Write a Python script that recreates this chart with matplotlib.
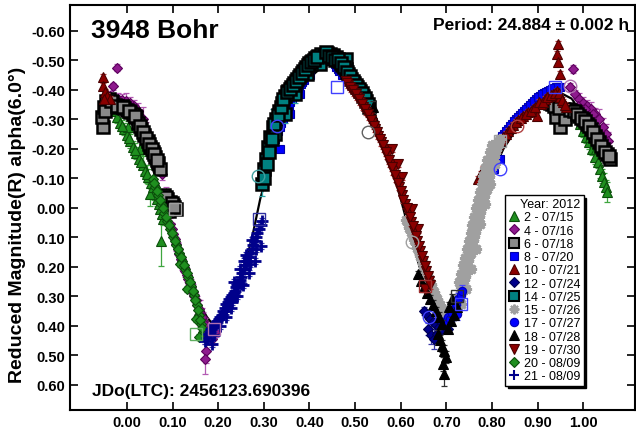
import matplotlib
matplotlib.use("Agg")
import matplotlib.pyplot as plt
from matplotlib.lines import Line2D
import numpy as np

plt.rcParams['font.family'] = ['Liberation Sans', 'DejaVu Sans']

# ---- lightcurve sessions: [phase, reduced magnitude, error] ----
S02 = [
    [-0.032, -0.329, 0.015], [-0.023, -0.308, 0.020], [-0.015, -0.288, 0.015], [-0.006, -0.268, 0.020],
    [0.001, -0.247, 0.020], [0.007, -0.227, 0.025], [0.014, -0.207, 0.020], [0.020, -0.186, 0.020],
    [0.027, -0.166, 0.025], [0.034, -0.145, 0.030], [0.040, -0.125, 0.020], [0.047, -0.105, 0.025],
    [0.053, -0.084, 0.020], [0.060, -0.057, 0.030], [0.066, -0.030, 0.025], [0.073, 0.004, 0.030],
    [0.080, 0.038, 0.020], [0.075, 0.112, 0.085], [0.051, -0.047, 0.040], [0.029, -0.200, 0.030],
    [0.003, -0.274, 0.020], [-0.010, -0.278, 0.020], [0.004, -0.237, 0.020], [0.017, -0.196, 0.025],
    [0.030, -0.155, 0.025], [0.044, -0.115, 0.030], [0.057, -0.070, 0.025], [0.070, -0.012, 0.030],
    [0.077, 0.021, 0.025],
    [0.993, -0.285, 0.015], [1.000, -0.261, 0.020], [1.007, -0.240, 0.020], [1.013, -0.223, 0.025],
    [1.020, -0.200, 0.020], [1.026, -0.173, 0.025], [1.033, -0.156, 0.020], [1.037, -0.132, 0.030],
    [1.042, -0.108, 0.025], [1.046, -0.088, 0.030], [1.050, -0.071, 0.025], [1.053, -0.054, 0.035],
    [1.028, -0.200, 0.020], [1.015, -0.240, 0.020],
]
S04 = [
    [-0.021, -0.475, 0.012], [-0.030, -0.413, 0.012], [-0.037, -0.380, 0.015], [-0.028, -0.373, 0.015],
    [-0.019, -0.369, 0.020], [-0.010, -0.366, 0.020], [-0.002, -0.363, 0.025], [0.007, -0.356, 0.020],
    [0.016, -0.346, 0.020], [0.025, -0.329, 0.025], [0.034, -0.301, 0.040], [0.042, -0.261, 0.030],
    [0.051, -0.227, 0.020], [0.060, -0.193, 0.025], [0.069, -0.159, 0.030], [0.077, -0.115, 0.020],
    [0.086, -0.047, 0.025], [0.095, 0.055, 0.020], [0.101, 0.089, 0.020], [0.108, 0.123, 0.025],
    [0.115, 0.156, 0.020], [0.121, 0.187, 0.025], [0.128, 0.214, 0.020], [0.134, 0.241, 0.020],
    [0.141, 0.268, 0.025], [0.147, 0.299, 0.020], [0.154, 0.329, 0.030], [0.161, 0.357, 0.045],
    [0.167, 0.384, 0.030], [0.174, 0.411, 0.025], [0.180, 0.431, 0.020], [0.187, 0.445, 0.020],
    [0.174, 0.485, 0.040], [0.172, 0.513, 0.050], [0.194, 0.418, 0.020],
    [0.098, 0.072, 0.020], [0.105, 0.106, 0.020], [0.111, 0.140, 0.025], [0.118, 0.172, 0.020],
    [0.125, 0.200, 0.020], [0.131, 0.228, 0.025], [0.138, 0.255, 0.020], [0.144, 0.284, 0.025],
    [0.151, 0.314, 0.020], [0.157, 0.343, 0.030], [0.164, 0.370, 0.030], [0.170, 0.398, 0.025],
    [0.177, 0.421, 0.020], [0.183, 0.438, 0.020],
    [0.978, -0.471, 0.012], [0.972, -0.410, 0.015], [0.982, -0.386, 0.015], [0.991, -0.369, 0.020],
    [1.000, -0.356, 0.020], [1.009, -0.346, 0.020], [1.017, -0.335, 0.025], [1.026, -0.318, 0.020],
    [1.035, -0.301, 0.035], [1.044, -0.274, 0.030], [1.050, -0.251, 0.035], [1.055, -0.227, 0.030],
    [1.044, -0.234, 0.030], [1.022, -0.318, 0.020], [1.004, -0.335, 0.020], [0.989, -0.346, 0.020],
]
S06 = [
    [-0.052, -0.274, 0.010], [-0.054, -0.308, 0.010], [-0.050, -0.342, 0.010], [-0.045, -0.363, 0.010],
    [-0.039, -0.369, 0.010], [-0.032, -0.359, 0.010], [-0.026, -0.349, 0.010], [-0.019, -0.342, 0.010],
    [-0.012, -0.346, 0.010], [-0.006, -0.339, 0.010], [0.001, -0.332, 0.010], [0.007, -0.325, 0.010],
    [0.014, -0.318, 0.010], [0.020, -0.308, 0.010], [0.025, -0.288, 0.010], [0.031, -0.268, 0.010],
    [0.038, -0.247, 0.010], [0.045, -0.227, 0.010], [0.051, -0.207, 0.010], [0.056, -0.190, 0.010],
    [0.062, -0.173, 0.010], [0.069, -0.152, 0.010], [0.073, -0.132, 0.010], [0.082, -0.044, 0.010],
    [0.088, -0.030, 0.010], [0.095, -0.020, 0.010], [0.101, -0.010, 0.010], [0.108, 0.004, 0.010],
    [0.091, 0.011, 0.010], [-0.048, -0.330, 0.010], [-0.036, -0.362, 0.010], [-0.022, -0.345, 0.010],
    [-0.009, -0.342, 0.010], [0.004, -0.328, 0.010], [0.017, -0.313, 0.010], [0.028, -0.278, 0.010],
    [0.035, -0.257, 0.010], [0.041, -0.237, 0.010], [0.048, -0.217, 0.010], [0.054, -0.198, 0.010],
    [0.059, -0.182, 0.010], [0.066, -0.162, 0.010], [0.085, -0.037, 0.010], [0.098, -0.015, 0.010],
    [0.104, -0.003, 0.010],
    [0.923, -0.359, 0.010], [0.932, -0.352, 0.010], [0.941, -0.342, 0.010], [0.950, -0.274, 0.010],
    [0.956, -0.335, 0.010], [0.965, -0.335, 0.010], [0.974, -0.329, 0.010], [0.983, -0.325, 0.010],
    [0.991, -0.312, 0.010], [1.000, -0.301, 0.010], [1.009, -0.285, 0.010], [1.017, -0.268, 0.010],
    [1.026, -0.244, 0.010], [1.035, -0.223, 0.010], [1.044, -0.200, 0.010], [1.053, -0.183, 0.010],
    [1.059, -0.166, 0.010], [0.941, -0.308, 0.010], [0.961, -0.301, 0.010], [0.927, -0.355, 0.010],
    [0.936, -0.347, 0.010], [0.946, -0.338, 0.010], [0.970, -0.332, 0.010], [0.979, -0.327, 0.010],
    [0.987, -0.318, 0.010], [0.996, -0.306, 0.010], [1.004, -0.293, 0.010], [1.013, -0.276, 0.010],
    [1.022, -0.256, 0.010], [1.031, -0.233, 0.010], [1.040, -0.211, 0.010], [1.048, -0.191, 0.010],
    [1.056, -0.175, 0.010],
]
S08 = [
    [0.325, -0.234, 0.010], [0.332, -0.261, 0.010], [0.338, -0.288, 0.010], [0.345, -0.315, 0.010],
    [0.351, -0.335, 0.010], [0.358, -0.359, 0.010], [0.365, -0.380, 0.010], [0.371, -0.396, 0.010],
    [0.378, -0.413, 0.010], [0.384, -0.427, 0.010], [0.419, -0.485, 0.010], [0.426, -0.498, 0.010],
    [0.432, -0.505, 0.010], [0.439, -0.512, 0.010], [0.446, -0.505, 0.010], [0.452, -0.495, 0.010],
    [0.459, -0.478, 0.010], [0.465, -0.464, 0.010], [0.472, -0.451, 0.010], [0.336, -0.200, 0.010],
    [0.358, -0.318, 0.010], [0.380, -0.386, 0.010], [0.402, -0.451, 0.010], [0.329, -0.248, 0.010],
    [0.335, -0.275, 0.010], [0.341, -0.302, 0.010], [0.348, -0.325, 0.010], [0.355, -0.347, 0.010],
    [0.361, -0.370, 0.010], [0.368, -0.388, 0.010], [0.375, -0.405, 0.010], [0.381, -0.420, 0.010],
    [0.387, -0.435, 0.010], [0.422, -0.492, 0.010], [0.429, -0.502, 0.010], [0.436, -0.508, 0.010],
    [0.442, -0.509, 0.010], [0.449, -0.500, 0.010], [0.456, -0.487, 0.010], [0.462, -0.471, 0.010],
    [0.792, -0.149, 0.010], [0.800, -0.173, 0.010], [0.809, -0.200, 0.010], [0.818, -0.234, 0.010],
    [0.827, -0.251, 0.010], [0.836, -0.268, 0.010], [0.844, -0.285, 0.010], [0.853, -0.301, 0.010],
    [0.862, -0.315, 0.010], [0.871, -0.329, 0.010], [0.880, -0.342, 0.010], [0.888, -0.356, 0.010],
    [0.897, -0.369, 0.010], [0.906, -0.380, 0.010], [0.914, -0.390, 0.010], [0.923, -0.396, 0.010],
    [0.932, -0.403, 0.010], [0.941, -0.410, 0.010], [0.950, -0.410, 0.010], [0.805, -0.132, 0.010],
    [0.818, -0.166, 0.010], [0.796, -0.161, 0.010], [0.805, -0.186, 0.010], [0.813, -0.217, 0.010],
    [0.822, -0.243, 0.010], [0.831, -0.260, 0.010], [0.840, -0.277, 0.010], [0.849, -0.293, 0.010],
    [0.858, -0.308, 0.010], [0.866, -0.322, 0.010], [0.875, -0.336, 0.010], [0.884, -0.349, 0.010],
    [0.893, -0.362, 0.010], [0.901, -0.375, 0.010], [0.910, -0.385, 0.010], [0.919, -0.393, 0.010],
    [0.927, -0.400, 0.010], [0.936, -0.407, 0.010], [0.945, -0.410, 0.010],
]
S10 = [
    [-0.052, -0.444, 0.010], [-0.052, -0.413, 0.010], [-0.048, -0.393, 0.010], [-0.043, -0.380, 0.010],
    [-0.037, -0.369, 0.010], [-0.050, -0.369, 0.010],
    [0.770, -0.098, 0.010], [0.781, -0.132, 0.010], [0.792, -0.166, 0.010], [0.803, -0.193, 0.010],
    [0.814, -0.217, 0.010], [0.825, -0.240, 0.010], [0.836, -0.261, 0.010], [0.846, -0.281, 0.010],
    [0.858, -0.298, 0.010], [0.869, -0.312, 0.010], [0.879, -0.325, 0.010], [0.890, -0.335, 0.010],
    [0.899, -0.312, 0.010], [0.908, -0.352, 0.010], [0.917, -0.369, 0.010], [0.925, -0.380, 0.010],
    [0.934, -0.386, 0.010], [0.943, -0.396, 0.010], [0.950, -0.376, 0.010], [0.956, -0.359, 0.010],
    [0.963, -0.342, 0.010], [0.945, -0.556, 0.010], [0.943, -0.522, 0.010], [0.945, -0.495, 0.010],
    [0.950, -0.454, 0.010], [0.775, -0.115, 0.010], [0.786, -0.149, 0.010], [0.797, -0.180, 0.010],
    [0.808, -0.205, 0.010], [0.819, -0.229, 0.010], [0.830, -0.250, 0.010], [0.841, -0.271, 0.010],
    [0.852, -0.290, 0.010], [0.863, -0.305, 0.010], [0.874, -0.318, 0.010], [0.885, -0.330, 0.010],
    [0.895, -0.342, 0.010], [0.904, -0.358, 0.010], [0.912, -0.360, 0.010], [0.921, -0.375, 0.010],
    [0.930, -0.383, 0.010], [0.938, -0.391, 0.010], [0.947, -0.388, 0.010], [0.953, -0.367, 0.010],
    [0.960, -0.350, 0.010],
]
S12 = [
    [0.652, 0.350, 0.012], [0.658, 0.363, 0.012], [0.665, 0.377, 0.015], [0.671, 0.387, 0.012],
    [0.678, 0.397, 0.015], [0.684, 0.404, 0.012], [0.691, 0.411, 0.015], [0.698, 0.404, 0.012],
    [0.704, 0.411, 0.015], [0.660, 0.411, 0.020], [0.667, 0.431, 0.030], [0.673, 0.445, 0.035],
    [0.680, 0.428, 0.020], [0.687, 0.384, 0.015], [0.695, 0.370, 0.015],
]
S14 = [
    [0.296, -0.081, 0.040], [0.301, -0.132, 0.050], [0.305, -0.166, 0.030], [0.310, -0.207, 0.040],
    [0.314, -0.240, 0.030], [0.321, -0.274, 0.060], [0.327, -0.301, 0.030], [0.334, -0.329, 0.050],
    [0.340, -0.356, 0.040], [0.347, -0.380, 0.030], [0.353, -0.396, 0.030], [0.360, -0.410, 0.030],
    [0.367, -0.424, 0.020], [0.373, -0.437, 0.020], [0.380, -0.451, 0.020], [0.386, -0.464, 0.020],
    [0.393, -0.478, 0.015], [0.400, -0.491, 0.015], [0.406, -0.498, 0.015], [0.413, -0.508, 0.015],
    [0.419, -0.515, 0.015], [0.426, -0.522, 0.010], [0.432, -0.519, 0.010], [0.439, -0.525, 0.010],
    [0.446, -0.522, 0.010], [0.452, -0.519, 0.010], [0.459, -0.512, 0.015], [0.465, -0.498, 0.015],
    [0.472, -0.485, 0.015], [0.479, -0.471, 0.015], [0.485, -0.454, 0.015], [0.492, -0.437, 0.015],
    [0.498, -0.424, 0.015], [0.505, -0.410, 0.015], [0.511, -0.396, 0.020], [0.518, -0.380, 0.020],
    [0.524, -0.363, 0.020], [0.531, -0.342, 0.020], [0.395, -0.454, 0.020], [0.369, -0.386, 0.030],
    [0.347, -0.318, 0.030], [0.325, -0.251, 0.030], [0.424, -0.488, 0.010], [0.479, -0.505, 0.015],
    [0.300, -0.100, 0.040], [0.306, -0.150, 0.030], [0.312, -0.190, 0.040], [0.318, -0.232, 0.050],
    [0.323, -0.285, 0.030], [0.330, -0.315, 0.040], [0.337, -0.342, 0.040], [0.343, -0.368, 0.030],
    [0.350, -0.392, 0.030], [0.357, -0.402, 0.030], [0.363, -0.418, 0.020], [0.370, -0.430, 0.020],
    [0.376, -0.444, 0.020], [0.383, -0.458, 0.020], [0.390, -0.470, 0.015], [0.397, -0.484, 0.015],
    [0.403, -0.495, 0.015], [0.410, -0.503, 0.015], [0.416, -0.511, 0.015], [0.436, -0.530, 0.010],
    [0.443, -0.515, 0.010], [0.449, -0.510, 0.010], [0.456, -0.502, 0.015], [0.462, -0.505, 0.015],
    [0.469, -0.490, 0.015], [0.476, -0.478, 0.015], [0.482, -0.462, 0.015], [0.489, -0.447, 0.015],
    [0.495, -0.430, 0.015], [0.502, -0.418, 0.015], [0.508, -0.402, 0.020], [0.515, -0.388, 0.020],
    [0.521, -0.371, 0.020], [0.528, -0.352, 0.020],
]
S15 = [
    [0.616, 0.055, 0.010], [0.623, 0.082, 0.010], [0.630, 0.109, 0.010], [0.636, 0.136, 0.010],
    [0.643, 0.163, 0.010], [0.649, 0.190, 0.010], [0.656, 0.218, 0.010], [0.662, 0.245, 0.010],
    [0.669, 0.272, 0.010], [0.676, 0.296, 0.010], [0.682, 0.319, 0.010], [0.689, 0.340, 0.010],
    [0.695, 0.353, 0.010], [0.702, 0.363, 0.010], [0.709, 0.370, 0.010], [0.715, 0.360, 0.010],
    [0.722, 0.343, 0.010], [0.726, 0.309, 0.010], [0.731, 0.282, 0.010], [0.735, 0.258, 0.010],
    [0.740, 0.234, 0.010], [0.744, 0.207, 0.010], [0.748, 0.180, 0.010], [0.753, 0.153, 0.010],
    [0.757, 0.126, 0.010], [0.761, 0.099, 0.010], [0.766, 0.072, 0.010], [0.770, 0.045, 0.010],
    [0.774, 0.017, 0.010], [0.779, -0.010, 0.010], [0.783, -0.037, 0.010], [0.788, -0.064, 0.010],
    [0.792, -0.091, 0.010], [0.796, -0.118, 0.010], [0.801, -0.145, 0.010], [0.805, -0.173, 0.010],
    [0.809, -0.196, 0.010], [0.814, -0.217, 0.010], [0.818, -0.234, 0.010], [0.742, 0.275, 0.010],
    [0.753, 0.207, 0.010], [0.764, 0.139, 0.010], [0.774, 0.055, 0.010], [0.785, -0.013, 0.010],
    [0.796, -0.081, 0.010], [0.807, -0.149, 0.010], [0.731, 0.326, 0.010], [0.720, 0.309, 0.010],
    [0.612, 0.040, 0.010], [0.619, 0.068, 0.010], [0.626, 0.096, 0.010], [0.633, 0.122, 0.010],
    [0.640, 0.150, 0.010], [0.646, 0.176, 0.010], [0.652, 0.204, 0.010], [0.659, 0.231, 0.010],
    [0.666, 0.258, 0.010], [0.672, 0.285, 0.010], [0.679, 0.308, 0.010], [0.686, 0.330, 0.010],
    [0.692, 0.347, 0.010], [0.699, 0.358, 0.010], [0.705, 0.366, 0.010], [0.712, 0.372, 0.010],
    [0.718, 0.352, 0.010], [0.729, 0.295, 0.010], [0.733, 0.270, 0.010], [0.738, 0.246, 0.010],
    [0.742, 0.220, 0.010], [0.746, 0.194, 0.010], [0.750, 0.166, 0.010], [0.755, 0.140, 0.010],
    [0.759, 0.112, 0.010], [0.763, 0.086, 0.010], [0.768, 0.058, 0.010], [0.772, 0.031, 0.010],
    [0.776, 0.004, 0.010], [0.781, -0.024, 0.010], [0.785, -0.050, 0.010], [0.790, -0.078, 0.010],
    [0.794, -0.105, 0.010], [0.798, -0.132, 0.010], [0.803, -0.160, 0.010], [0.807, -0.185, 0.010],
    [0.812, -0.206, 0.010], [0.816, -0.226, 0.010],
    [0.728, 0.250, 0.010], [0.733, 0.225, 0.010], [0.737, 0.195, 0.010], [0.741, 0.170, 0.010],
    [0.745, 0.140, 0.010], [0.749, 0.112, 0.010], [0.753, 0.085, 0.010], [0.757, 0.058, 0.010],
    [0.761, 0.030, 0.010], [0.765, 0.002, 0.010], [0.769, -0.025, 0.010], [0.773, -0.052, 0.010],
    [0.777, -0.080, 0.010], [0.781, -0.108, 0.010], [0.785, -0.135, 0.010], [0.790, -0.162, 0.010],
    [0.795, -0.190, 0.010], [0.800, -0.212, 0.010],
]
S17 = [
    [0.700, 0.384, 0.015], [0.704, 0.370, 0.015], [0.709, 0.377, 0.020], [0.713, 0.357, 0.015],
    [0.717, 0.343, 0.020], [0.722, 0.326, 0.015], [0.726, 0.309, 0.020], [0.731, 0.296, 0.015],
    [0.735, 0.282, 0.020], [0.724, 0.360, 0.020],
]
S18 = [
    [0.540, -0.342, 0.020], [0.638, 0.224, 0.010], [0.645, 0.248, 0.010], [0.652, 0.268, 0.012],
    [0.658, 0.289, 0.012], [0.665, 0.309, 0.012], [0.671, 0.329, 0.015], [0.678, 0.350, 0.015],
    [0.684, 0.370, 0.015], [0.691, 0.394, 0.015], [0.682, 0.428, 0.015], [0.687, 0.448, 0.015],
    [0.691, 0.469, 0.020], [0.695, 0.485, 0.020], [0.700, 0.506, 0.020], [0.693, 0.530, 0.025],
    [0.695, 0.564, 0.040], [0.704, 0.411, 0.015], [0.711, 0.384, 0.015], [0.717, 0.363, 0.015],
    [0.724, 0.336, 0.015], [0.706, 0.336, 0.015], [0.713, 0.309, 0.015],
]
S19 = [
    [0.479, -0.430, 0.010], [0.485, -0.417, 0.010], [0.492, -0.403, 0.010], [0.498, -0.390, 0.010],
    [0.505, -0.376, 0.010], [0.511, -0.359, 0.010], [0.518, -0.342, 0.010], [0.524, -0.325, 0.010],
    [0.531, -0.308, 0.010], [0.538, -0.288, 0.010], [0.544, -0.268, 0.010], [0.551, -0.244, 0.012],
    [0.557, -0.223, 0.012], [0.564, -0.200, 0.012], [0.570, -0.176, 0.012], [0.577, -0.149, 0.012],
    [0.584, -0.125, 0.012], [0.590, -0.098, 0.012], [0.597, -0.071, 0.012], [0.603, -0.044, 0.012],
    [0.610, -0.013, 0.012], [0.616, 0.017, 0.012], [0.623, 0.048, 0.012], [0.630, 0.078, 0.012],
    [0.636, 0.112, 0.012], [0.643, 0.146, 0.012], [0.649, 0.180, 0.012], [0.656, 0.214, 0.012],
    [0.662, 0.248, 0.012], [0.595, -0.149, 0.012], [0.603, -0.105, 0.012], [0.581, -0.200, 0.012],
    [0.625, 0.004, 0.012], [0.638, 0.072, 0.012], [0.654, 0.275, 0.012],
    [0.482, -0.425, 0.010], [0.489, -0.410, 0.010], [0.495, -0.398, 0.010], [0.502, -0.385, 0.010],
    [0.508, -0.368, 0.010], [0.515, -0.352, 0.010], [0.521, -0.335, 0.010], [0.528, -0.318, 0.010],
    [0.534, -0.298, 0.010], [0.541, -0.278, 0.010], [0.548, -0.256, 0.012], [0.554, -0.234, 0.012],
    [0.561, -0.212, 0.012], [0.567, -0.188, 0.012], [0.574, -0.162, 0.012], [0.580, -0.138, 0.012],
    [0.587, -0.112, 0.012], [0.593, -0.085, 0.012], [0.600, -0.058, 0.012], [0.606, -0.028, 0.012],
    [0.613, 0.002, 0.012], [0.620, 0.032, 0.012], [0.626, 0.062, 0.012], [0.633, 0.095, 0.012],
    [0.640, 0.128, 0.012], [0.646, 0.163, 0.012], [0.653, 0.197, 0.012], [0.659, 0.231, 0.012],
    [0.665, 0.262, 0.012],
]
S20 = [
    [0.056, -0.098, 0.010], [0.062, -0.071, 0.010], [0.069, -0.044, 0.010], [0.075, -0.013, 0.010],
    [0.082, 0.017, 0.010], [0.088, 0.045, 0.010], [0.095, 0.072, 0.010], [0.101, 0.099, 0.010],
    [0.108, 0.126, 0.010], [0.115, 0.153, 0.010], [0.121, 0.180, 0.010], [0.128, 0.207, 0.010],
    [0.134, 0.234, 0.010], [0.141, 0.265, 0.010], [0.147, 0.296, 0.010], [0.154, 0.329, 0.010],
    [0.158, 0.363, 0.010], [0.163, 0.394, 0.010], [0.167, 0.421, 0.010], [0.158, 0.438, 0.010],
    [0.152, 0.377, 0.010], [0.132, 0.275, 0.010], [0.117, 0.190, 0.010],
    [0.059, -0.085, 0.010], [0.066, -0.058, 0.010], [0.072, -0.028, 0.010], [0.079, 0.002, 0.010],
    [0.085, 0.031, 0.010], [0.092, 0.058, 0.010], [0.098, 0.086, 0.010], [0.105, 0.112, 0.010],
    [0.112, 0.140, 0.010], [0.118, 0.166, 0.010], [0.125, 0.194, 0.010], [0.131, 0.220, 0.010],
    [0.138, 0.250, 0.010], [0.144, 0.281, 0.010], [0.150, 0.312, 0.010], [0.156, 0.346, 0.010],
    [0.161, 0.380, 0.010], [0.165, 0.408, 0.010],
]
S21 = [
    [0.172, 0.452, 0.010], [0.178, 0.428, 0.010], [0.185, 0.411, 0.010], [0.191, 0.397, 0.010],
    [0.198, 0.384, 0.010], [0.204, 0.370, 0.010], [0.211, 0.350, 0.010], [0.218, 0.326, 0.010],
    [0.224, 0.309, 0.010], [0.231, 0.296, 0.010], [0.237, 0.282, 0.010], [0.244, 0.258, 0.010],
    [0.250, 0.234, 0.010], [0.257, 0.207, 0.010], [0.263, 0.180, 0.010], [0.270, 0.153, 0.010],
    [0.277, 0.126, 0.010], [0.283, 0.099, 0.010], [0.290, 0.072, 0.010], [0.296, 0.045, 0.010],
    [0.257, 0.180, 0.010], [0.270, 0.190, 0.010], [0.283, 0.139, 0.010], [0.218, 0.350, 0.010],
    [0.187, 0.462, 0.010], [0.175, 0.440, 0.010], [0.181, 0.420, 0.010], [0.188, 0.405, 0.010],
    [0.195, 0.392, 0.010], [0.201, 0.376, 0.010], [0.208, 0.362, 0.010], [0.214, 0.340, 0.010],
    [0.221, 0.318, 0.010], [0.228, 0.302, 0.010], [0.234, 0.290, 0.010], [0.240, 0.270, 0.010],
    [0.247, 0.246, 0.010], [0.253, 0.220, 0.010], [0.260, 0.194, 0.010], [0.266, 0.166, 0.010],
    [0.273, 0.140, 0.010], [0.280, 0.112, 0.010], [0.286, 0.086, 0.010], [0.293, 0.058, 0.010],
    [0.230, 0.320, 0.010], [0.236, 0.300, 0.010], [0.242, 0.262, 0.010], [0.250, 0.260, 0.010],
    [0.190, 0.430, 0.010], [0.203, 0.400, 0.010], [0.216, 0.372, 0.010], [0.229, 0.340, 0.010],
    [0.242, 0.300, 0.010], [0.255, 0.262, 0.010], [0.268, 0.222, 0.010], [0.281, 0.180, 0.010],
    [0.294, 0.130, 0.010], [0.235, 0.250, 0.010], [0.248, 0.208, 0.010], [0.261, 0.160, 0.010],
    [0.274, 0.110, 0.010],
]

SESSION_LABELS = ["2 - 07/15", "4 - 07/16", "6 - 07/18", "8 - 07/20", "10 - 07/21",
                  "12 - 07/24", "14 - 07/25", "15 - 07/26", "17 - 07/27", "18 - 07/28",
                  "19 - 07/30", "20 - 08/09", "21 - 08/09"]
SESSIONS = [S02, S04, S06, S08, S10, S12, S14, S15, S17, S18, S19, S20, S21]

# hollow (first-of-run) markers: phase, magnitude
OPEN_PHASE = [0.152, 0.106, 0.190, 0.290, 0.288, 0.329, 0.461, 0.529, 0.625,
              0.654, 0.661, 0.724, 0.731, 0.818, 0.818, 0.855, 0.939, 0.971]
OPEN_MAG = [0.428, 0.004, 0.411, 0.038, -0.108, -0.278, -0.410, -0.257, 0.116,
            0.265, 0.370, 0.299, 0.326, -0.227, -0.132, -0.278, -0.410, -0.413]

# Fourier fit, one full cycle
FIT_PHASE = [0.000, 0.025, 0.050, 0.075, 0.100, 0.125, 0.150, 0.175, 0.190, 0.200,
             0.215, 0.233, 0.250, 0.264, 0.277, 0.292, 0.310, 0.330, 0.350, 0.375,
             0.400, 0.425, 0.450, 0.475, 0.500, 0.525, 0.550, 0.575, 0.600, 0.625,
             0.650, 0.675, 0.690, 0.700, 0.712, 0.725, 0.737, 0.750, 0.762, 0.775,
             0.787, 0.800, 0.825, 0.850, 0.875, 0.900, 0.925, 0.950, 0.975, 1.000]
FIT_MAG = [-0.31, -0.25, -0.16, -0.05, 0.07, 0.19, 0.30, 0.37, 0.40, 0.40,
           0.37, 0.31, 0.235, 0.163, 0.08, -0.03, -0.13, -0.23, -0.31, -0.385,
           -0.44, -0.475, -0.49, -0.48, -0.45, -0.385, -0.29, -0.165, -0.03, 0.115,
           0.245, 0.34, 0.375, 0.385, 0.36, 0.29, 0.21, 0.13, 0.065, 0.0,
           -0.06, -0.115, -0.20, -0.26, -0.31, -0.345, -0.375, -0.39, -0.37, -0.31]

X_TICKS = [0.0, 0.1, 0.2, 0.3, 0.4, 0.5, 0.6, 0.7, 0.8, 0.9, 1.0]
Y_TICKS = [-0.6, -0.5, -0.4, -0.3, -0.2, -0.1, 0.0, 0.1, 0.2, 0.3, 0.4, 0.5, 0.6]

# marker style per session (same order as SESSIONS)
STYLES = [
    dict(marker='^', ms=7, mfc='#1f8f1f', mec='#0b4f0b', mew=0.8, ecolor='#3fa63f'),
    dict(marker='D', ms=5, mfc='#8e1a8e', mec='#5c005c', mew=0.8, ecolor='#b35ab3'),
    dict(marker='s', ms=8.5, mfc='#8a8a8a', mec='#000000', mew=1.8, ecolor='#9a9a9a'),
    dict(marker='s', ms=6, mfc='#0000ff', mec='#0000b0', mew=0.8, ecolor='#4a4aff'),
    dict(marker='^', ms=7.5, mfc='#8b0000', mec='#4a0000', mew=0.8, ecolor='#b03a3a'),
    dict(marker='D', ms=5, mfc='#00008b', mec='#000050', mew=0.8, ecolor='#3a3aa8'),
    dict(marker='s', ms=8.5, mfc='#008080', mec='#000000', mew=1.8, ecolor='#2aa3a3'),
    dict(marker=(8, 2, 0), ms=8, mfc='#a0a0a0', mec='#a0a0a0', mew=2.0, ecolor='#b0b0b0'),
    dict(marker='o', ms=6, mfc='#0000ff', mec='#0000b0', mew=0.8, ecolor='#4a4aff'),
    dict(marker='^', ms=7, mfc='#000000', mec='#000000', mew=0.8, ecolor='#303030'),
    dict(marker='v', ms=7.5, mfc='#8b0000', mec='#4a0000', mew=0.8, ecolor='#b03a3a'),
    dict(marker='D', ms=5, mfc='#1f8f1f', mec='#0b4f0b', mew=0.8, ecolor='#3fa63f'),
    dict(marker='+', ms=8, mfc='#00008b', mec='#00008b', mew=2.0, ecolor='#3a3aa8'),
]
OPEN_STYLE = [('s', '#5fae5f'), ('s', '#a0a0a0'), ('s', '#b070b0'), ('s', '#3030a0'),
              ('o', '#40a0a0'), ('o', '#4040ff'), ('s', '#4040ff'), ('o', '#606060'),
              ('o', '#a0a0a0'), ('s', '#a03030'), ('o', '#4040ff'), ('s', '#303030'),
              ('s', '#4040ff'), ('s', '#a0a0a0'), ('o', '#4040ff'), ('o', '#b04040'),
              ('s', '#4040ff'), ('o', '#b070b0')]

fig = plt.figure(figsize=(6.36, 4.31), dpi=100)
ax = fig.add_axes([0.1108, 0.0471, 0.8876, 0.9390])

# fit curve over one cycle
ax.plot(FIT_PHASE, FIT_MAG, color='black', lw=1.6, zorder=1, solid_joinstyle='round')

for i, (data, st) in enumerate(zip(SESSIONS, STYLES)):
    arr = np.array(data)
    ax.errorbar(arr[:, 0], arr[:, 1], yerr=arr[:, 2], fmt='none', ecolor=st['ecolor'],
                elinewidth=0.9, capsize=2.2, capthick=0.9, zorder=2 + i * 0.1)
    ax.plot(arr[:, 0], arr[:, 1], linestyle='none', marker=st['marker'], ms=st['ms'],
            mfc=st['mfc'], mec=st['mec'], mew=st['mew'], zorder=2.05 + i * 0.1)

for p, m, (mk, col) in zip(OPEN_PHASE, OPEN_MAG, OPEN_STYLE):
    ax.plot([p], [m], linestyle='none', marker=mk, ms=9, mfc='none', mec=col, mew=1.0, zorder=4)

ax.set_xlim(-0.1239, 1.1134)
ax.set_ylim(0.6848, -0.688)
ax.set_xticks(X_TICKS, labels=[f"{v:.2f}" for v in X_TICKS], fontweight='bold', fontsize=10.5)
ax.set_yticks(Y_TICKS, labels=[f"{v:.2f}" for v in Y_TICKS], fontweight='bold', fontsize=10.5)
ax.tick_params(direction='in', length=6, width=1.2, top=True, right=True, pad=4)
for sp in ax.spines.values():
    sp.set_linewidth(1.5)

fig.text(91 / 636, 1 - 31 / 431, "3948 Bohr", fontsize=19, fontweight='bold', ha='left', va='center')
fig.text(629 / 636, 1 - 25 / 431, "Period: 24.884 \u00b1 0.002 h", fontsize=12.5,
         fontweight='bold', ha='right', va='center')
fig.text(92 / 636, 1 - 392 / 431, "JDo(LTC): 2456123.690396", fontsize=12.5,
         fontweight='bold', ha='left', va='center')
fig.text(18 / 636, 0.478, "Reduced Magnitude(R) alpha(6.0\u00b0)", rotation=90, fontsize=14,
         fontweight='bold', ha='center', va='center')

handles = []
for st in STYLES:
    handles.append(Line2D([], [], linestyle='none', marker=st['marker'], ms=min(st['ms'], 7),
                          mfc=st['mfc'], mec=st['mec'], mew=min(st['mew'], 1.5)))
leg = ax.legend(handles, SESSION_LABELS, title="Year: 2012", loc='upper left',
                bbox_to_anchor=(0.770, 0.5305), borderaxespad=0, frameon=True, fancybox=False,
                shadow={'color': 'black', 'alpha': 1.0}, prop={'size': 9}, title_fontsize=9,
                handlelength=0.9, handletextpad=0.35, labelspacing=0.1, borderpad=0.25,
                alignment='right', framealpha=1)
leg.get_frame().set_edgecolor('black')
leg.get_frame().set_linewidth(1.0)
leg.set_zorder(10)

fig.savefig("out.png", dpi=100)
